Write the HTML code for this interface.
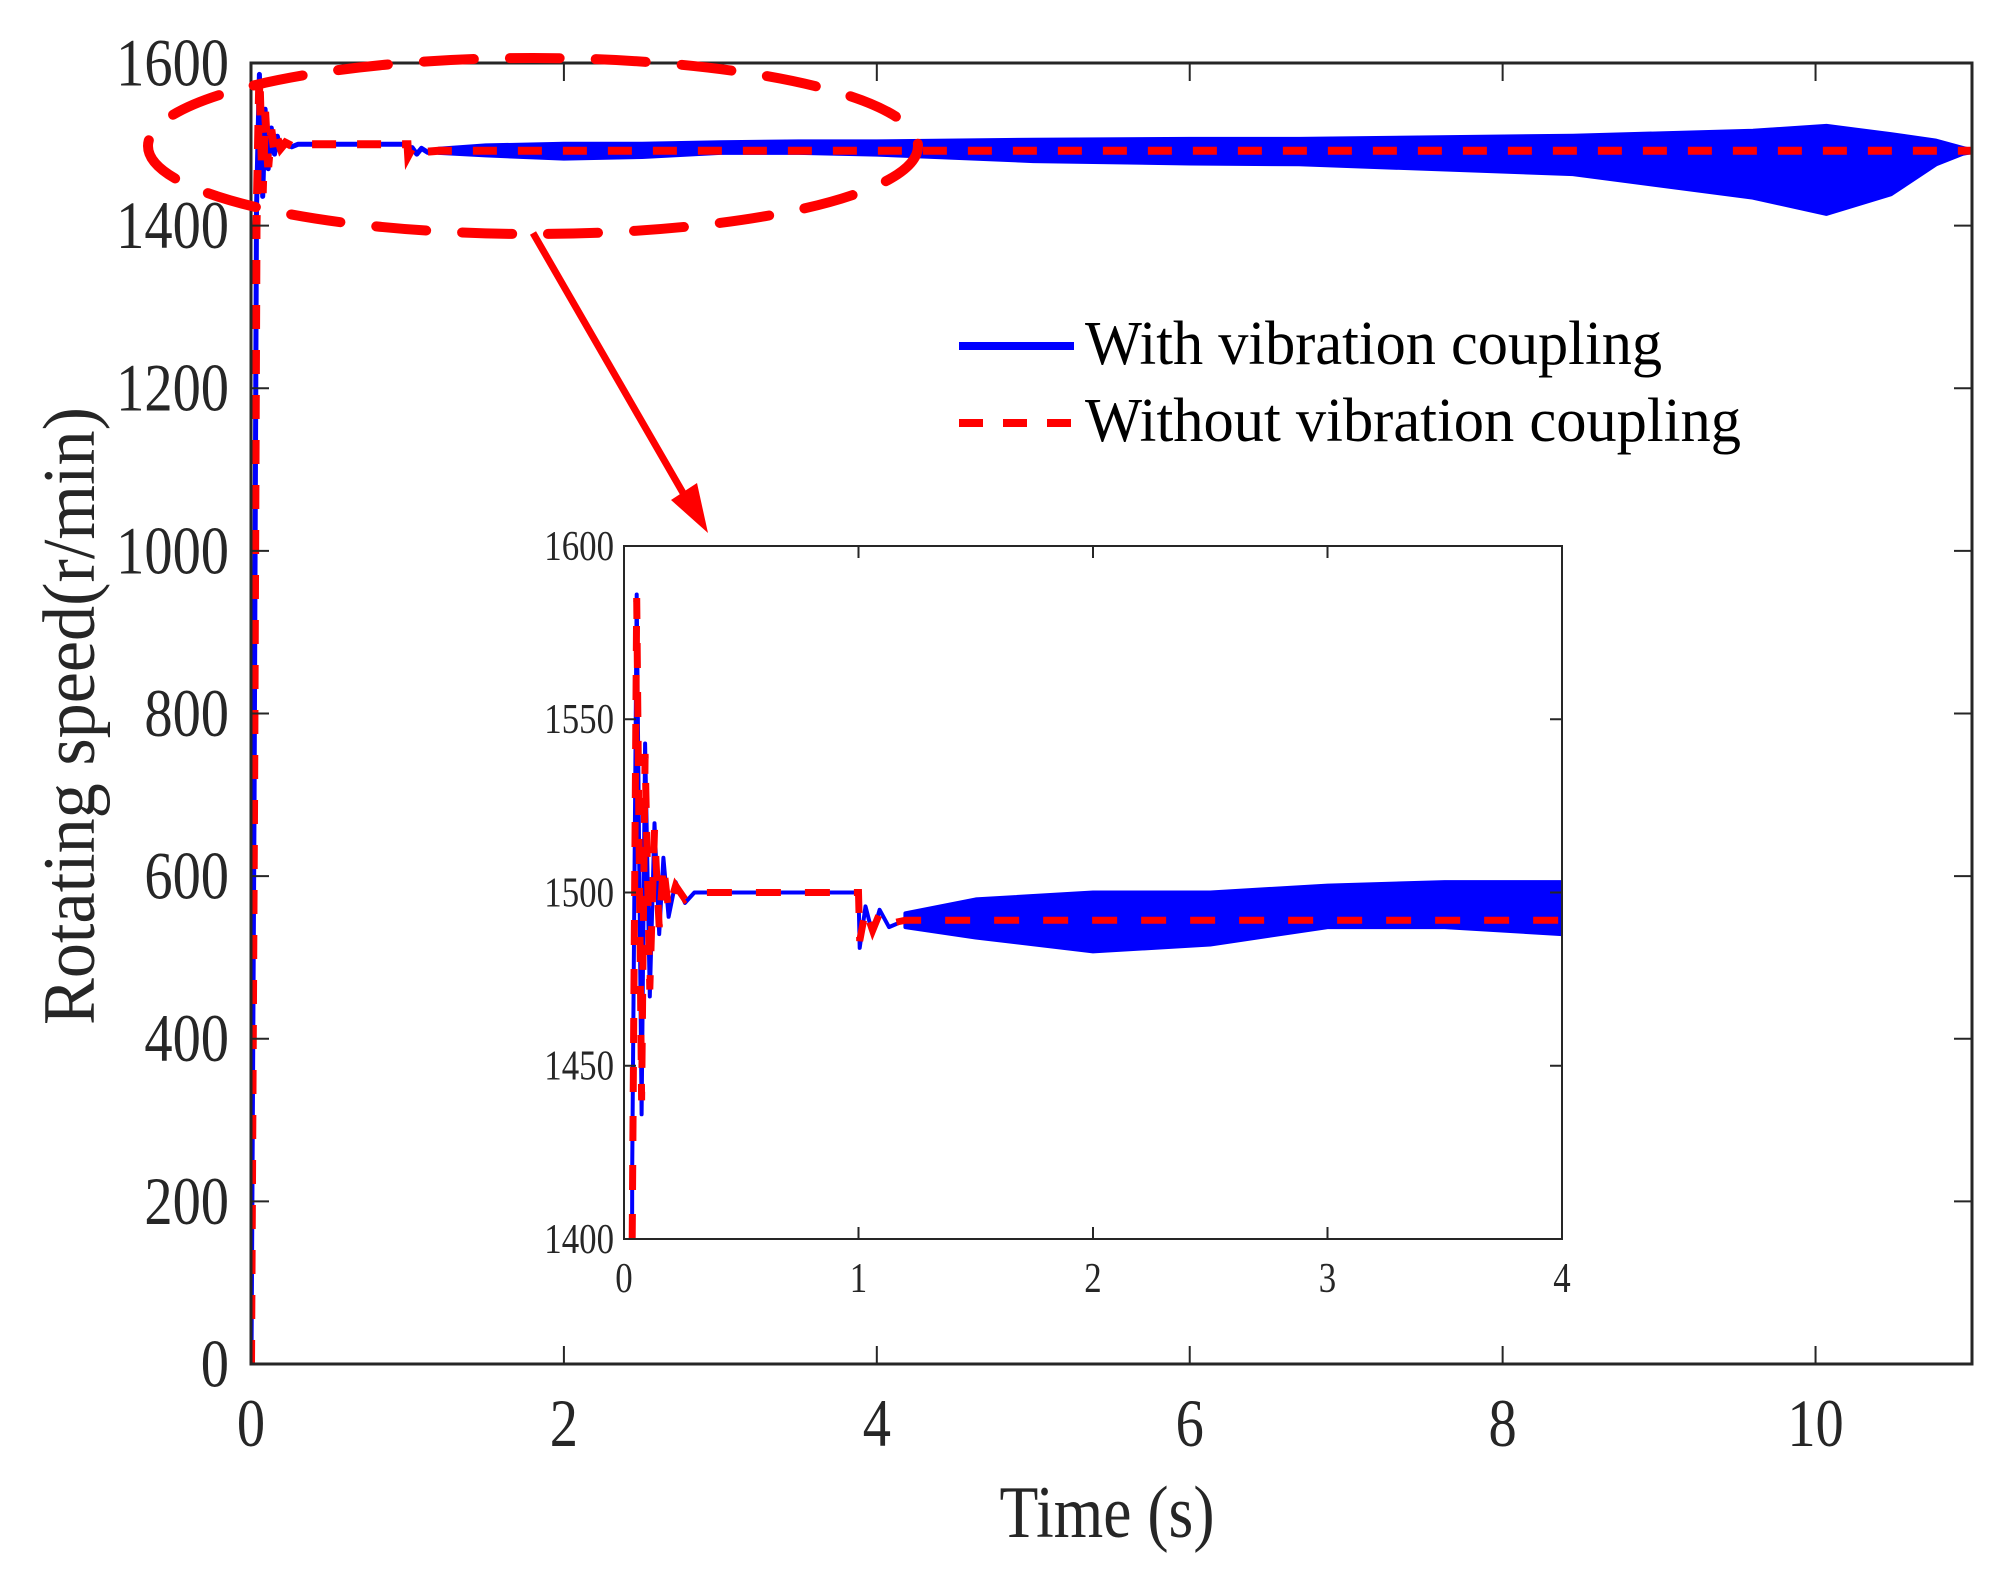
<!DOCTYPE html>
<html><head><meta charset="utf-8"><style>
html,body{margin:0;padding:0;background:#fff;width:2011px;height:1575px;overflow:hidden;}
svg{display:block;}
text{font-family:"Liberation Serif",serif;fill:#262626;}
</style></head><body>
<svg id="chart" width="2011" height="1575" viewBox="0 0 2011 1575" xmlns="http://www.w3.org/2000/svg">
<g id="main"></g>
<g id="inset"></g>
<g>
 <ellipse cx="533" cy="146" rx="385" ry="88" fill="none" stroke="#ff0000" stroke-width="10" stroke-dasharray="50 36" stroke-linecap="round"/>
 <line x1="533" y1="233" x2="690" y2="505" stroke="#ff0000" stroke-width="7"/>
 <polygon points="708,533 671,500 697,483" fill="#ff0000"/>
</g>
<g>
 <line x1="959" y1="346" x2="1074" y2="346" stroke="#0000ff" stroke-width="8"/>
 <text x="1085" y="364" font-size="62" textLength="577" lengthAdjust="spacingAndGlyphs" style="fill:#000">With vibration coupling</text>
 <line x1="959" y1="423" x2="1074" y2="423" stroke="#ff0000" stroke-width="8" stroke-dasharray="24 20"/>
 <text x="1085" y="441" font-size="62" textLength="656" lengthAdjust="spacingAndGlyphs" style="fill:#000">Without vibration coupling</text>
</g>
</svg>
<script>
// ---- data ----
const transientT = [0, 0.02, 0.035, 0.054, 0.075, 0.09, 0.11, 0.13, 0.15, 0.168, 0.19, 0.22, 0.26, 0.3, 1.0, 1.005, 1.03, 1.06, 1.09, 1.13, 1.2];
const transientWith = [0, 700, 1420, 1586, 1436, 1543, 1470, 1520, 1488, 1510, 1493, 1503, 1497, 1500, 1500, 1484, 1496, 1488, 1495, 1490, 1492];
const transientWithout = [0, 700, 1400, 1585, 1440, 1540, 1472, 1518, 1490, 1508, 1495, 1502, 1498, 1500, 1500, 1486, 1495, 1489, 1494, 1491, 1492];
const bandT = [1.2, 1.5, 2.0, 2.5, 3.0, 3.5, 4.0, 5.0, 6.0, 6.7, 8.45, 9.6, 10.07, 10.48, 10.77, 10.94, 11.0];
const bandUpper = [1494, 1498, 1500, 1500, 1502, 1503, 1503, 1505, 1506, 1506, 1510, 1516, 1522, 1512, 1504, 1495, 1492];
const bandLower = [1490, 1487, 1483, 1485, 1490, 1490, 1488, 1480, 1477, 1476, 1464, 1435, 1415, 1439, 1476, 1489, 1491];
const steadyWithout = 1492;
const endT = 11;
const mainXTicks = [0, 2, 4, 6, 8, 10];
const mainYTicks = [0, 200, 400, 600, 800, 1000, 1200, 1400, 1600];
const insetXTicks = [0, 1, 2, 3, 4];
const insetYTicks = [1400, 1450, 1500, 1550, 1600];

const NS = 'http://www.w3.org/2000/svg';
function mk(parent, tag, attrs, txt) {
  const e = document.createElementNS(NS, tag);
  for (const k in attrs) e.setAttribute(k, attrs[k]);
  if (txt !== undefined) e.textContent = txt;
  parent.appendChild(e);
  return e;
}

function drawPlot(g, box, xMin, xMax, yMin, yMax, xTicks, yTicks, fs, opts) {
  const sx = t => box.l + (t - xMin) / (xMax - xMin) * (box.r - box.l);
  const sy = v => box.b - (v - yMin) / (yMax - yMin) * (box.b - box.t);
  const clipId = 'clip-' + opts.id;
  const defs = mk(g, 'defs', {});
  const cp = mk(defs, 'clipPath', {id: clipId});
  mk(cp, 'rect', {x: box.l, y: box.t - 40, width: box.r - box.l, height: box.b - box.t + 40});
  const data = mk(g, 'g', {'clip-path': 'url(#' + clipId + ')'});
  
  
  let pts = [];
  for (let i = 0; i < bandT.length; i++) pts.push(sx(bandT[i]).toFixed(1) + ',' + sy(bandUpper[i]).toFixed(1));
  for (let i = bandT.length - 1; i >= 0; i--) pts.push(sx(bandT[i]).toFixed(1) + ',' + sy(bandLower[i]).toFixed(1));
  const band = mk(data, 'polygon', {points: pts.join(' '), fill: '#0000ff', stroke: '#0000ff', 'stroke-width': opts.lw, 'stroke-linejoin': 'round'});
  
  
  let d = '';
  for (let i = 0; i < transientT.length; i++) d += (i ? 'L' : 'M') + sx(transientT[i]).toFixed(1) + ',' + sy(transientWith[i]).toFixed(1);
  const bl = mk(data, 'path', {d: d, fill: 'none', stroke: '#0000ff', 'stroke-width': opts.lw, 'stroke-linejoin': 'round'});
  
  
  let d2 = '';
  for (let i = 0; i < transientT.length; i++) d2 += (i ? 'L' : 'M') + sx(transientT[i]).toFixed(1) + ',' + sy(transientWithout[i]).toFixed(1);
  d2 += 'L' + sx(endT).toFixed(1) + ',' + sy(steadyWithout).toFixed(1);
  const rl = mk(data, 'path', {d: d2, fill: 'none', stroke: '#ff0000', 'stroke-width': opts.rw, 'stroke-dasharray': opts.dash});
  
  
  const frame = mk(g, 'rect', {x: box.l, y: box.t, width: box.r - box.l, height: box.b - box.t, fill: 'none', stroke: '#262626', 'stroke-width': opts.aw});
  
  
  xTicks.forEach(t => {
    const x = sx(t);
    mk(g, 'line', {x1: x, y1: box.b, x2: x, y2: box.b - opts.tl, stroke: '#262626', 'stroke-width': 2});
    mk(g, 'line', {x1: x, y1: box.t, x2: x, y2: box.t + opts.tl, stroke: '#262626', 'stroke-width': 2});
    const lab = mk(g, 'text', {x: x, y: box.b + opts.xOff, 'font-size': fs, 'text-anchor': 'middle', transform: 'translate(' + x + ',0) scale(0.83,1) translate(' + (-x) + ',0)'}, String(t));
    
    
  });
  yTicks.forEach(v => {
    const y = sy(v);
    mk(g, 'line', {x1: box.l, y1: y, x2: box.l + opts.tl, y2: y, stroke: '#262626', 'stroke-width': 2});
    mk(g, 'line', {x1: box.r, y1: y, x2: box.r - opts.tl, y2: y, stroke: '#262626', 'stroke-width': 2});
    const rx = box.l - opts.yOff;
    const lab = mk(g, 'text', {x: rx, y: y + fs * 0.33, 'font-size': fs, 'text-anchor': 'end', transform: 'translate(' + rx + ',0) scale(0.83,1) translate(' + (-rx) + ',0)'}, String(v));
    
    
  });
}

const mainG = document.getElementById('main');
drawPlot(mainG, {l: 251, r: 1972, t: 63, b: 1364}, 0, 11, 0, 1600, mainXTicks, mainYTicks, 68,
  {id: 'main', lw: 5, rw: 8, dash: '24 21', aw: 3, tl: 18, xOff: 82, yOff: 22});
const xt = mk(mainG, 'text', {x: 1107, y: 1537, 'font-size': 74, 'text-anchor': 'middle', textLength: 215, lengthAdjust: 'spacingAndGlyphs'}, 'Time (s)');


const yt = mk(mainG, 'text', {x: 0, y: 0, 'font-size': 74, 'text-anchor': 'middle', textLength: 618, lengthAdjust: 'spacingAndGlyphs', transform: 'translate(94,716) rotate(-90)'}, 'Rotating speed(r/min)');



const insetG = document.getElementById('inset');
mk(insetG, 'rect', {x: 624, y: 546, width: 938, height: 693, fill: '#fff'});
drawPlot(insetG, {l: 624, r: 1562, t: 546, b: 1239}, 0, 4, 1400, 1600, insetXTicks, insetYTicks, 42,
  {id: 'inset', lw: 4, rw: 7, dash: '25 24', aw: 2, tl: 12, xOff: 53, yOff: 10});
</script>
</body></html>
